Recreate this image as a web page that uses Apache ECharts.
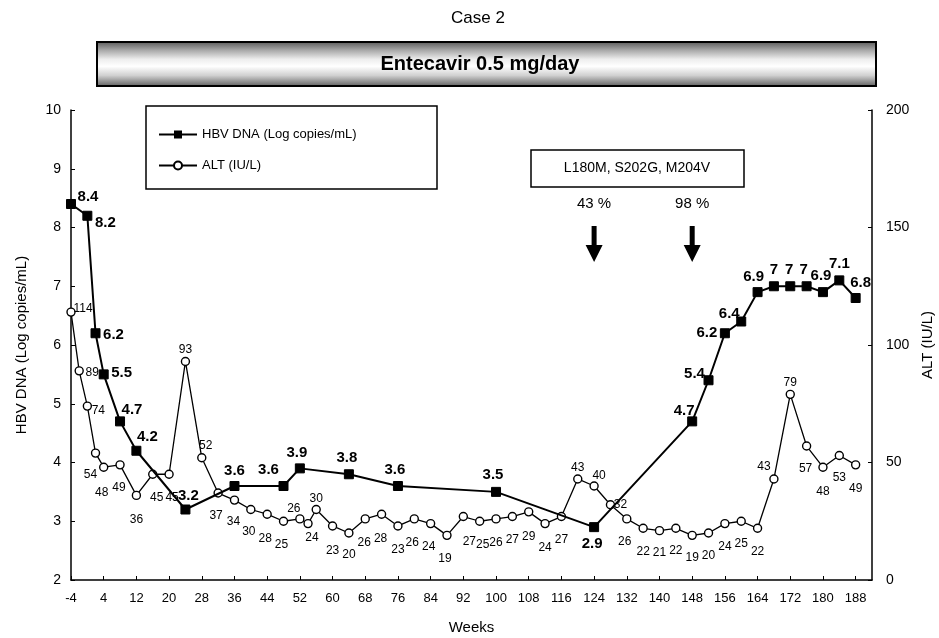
<!DOCTYPE html>
<html>
<head>
<meta charset="utf-8">
<script src="https://cdn.jsdelivr.net/npm/echarts@6/dist/echarts.min.js"></script>
<style>
html,body{margin:0;padding:0;background:#fff;}
#chart{width:939px;height:638px;}
</style>
</head>
<body>
<div id="chart"></div>
<script>
// ---- data ----
const hbvWeeks = [-4,0,2,4,8,12,24,36,48,52,64,76,100,124,148,152,156,160,164,168,172,176,180,184,188];
const hbvValues = [8.4,8.2,6.2,5.5,4.7,4.2,3.2,3.6,3.6,3.9,3.8,3.6,3.5,2.9,4.7,5.4,6.2,6.4,6.9,7,7,7,6.9,7.1,6.8];
const altWeeks = [-4,-2,0,2,4,8,12,16,20,24,28,32,36,40,44,48,52,54,56,60,64,68,72,76,80,84,88,92,96,100,104,108,112,116,120,124,128,132,136,140,144,148,152,156,160,164,168,172,176,180,184,188];
const altValues = [114,89,74,54,48,49,36,45,45,93,52,37,34,30,28,25,26,24,30,23,20,26,28,23,26,24,19,27,25,26,27,29,24,27,43,40,32,26,22,21,22,19,20,24,25,22,43,79,57,48,53,49];
const weekTicks = [-4,4,12,20,28,36,44,52,60,68,76,84,92,100,108,116,124,132,140,148,156,164,172,180,188];
const mutationWeeks = [124,148];
const mutationPct = ['43 %','98 %'];

// ---- label layout (offsets of each value label from its marker, px) ----
const hbvLabelOffsets = [[17,-7],[18,7],[18,2],[18,-2],[12,-12],[11,-14],[3,-14],[0,-15],[-15,-16],[-3,-16],[-2,-16],[-3,-16],[-3,-17],[-2,17],[-8,-11],[-14,-6],[-18,0],[-12,-8],[-4,-15],[0,-16],[-1,-16],[-3,-16],[-2,-16],[0,-17],[5,-15]];
const altLabelOffsets = [[12,-3],[13,2],[11,5],[-5,22],[-2,25],[-1,23],[0,24],[4,23],[3,23],[0,-12],[4,-12],[-2,23],[-1,22],[-2,22],[-2,24],[-2,23],[-6,-10],[4,14],[0,-11],[0,25],[0,22],[-1,24],[-1,24],[0,24],[-2,24],[-2,23],[-2,23],[6,25],[3,23],[0,24],[0,23],[0,25],[0,24],[0,23],[0,-11],[5,-10],[10,0],[-2,23],[0,23],[0,22],[0,22],[0,22],[0,23],[0,23],[0,22],[0,23],[-10,-12],[0,-12],[-1,23],[0,24],[0,22],[0,24]];

const SHIFT = 4; // axis counts from week -4
const FONT = "'Liberation Sans', Arial, sans-serif";

const hbvData = hbvWeeks.map((w,i)=>[w+SHIFT,hbvValues[i]]);
const altData = altWeeks.map((w,i)=>[w+SHIFT,altValues[i]]);

const chart = echarts.init(document.getElementById('chart'), null, {renderer:'canvas'});
const option = {
  animation:false,
  backgroundColor:'#fff',
  textStyle:{fontFamily:FONT,color:'#000'},
  grid:{left:71,right:67,top:110,bottom:58,containLabel:false,outerBoundsMode:'none'},
  legend:{
    orient:'vertical', left:153, top:123, itemGap:18, itemWidth:38, itemHeight:10,
    textStyle:{fontFamily:FONT,fontSize:13,color:'#000'},
    data:['HBV DNA (Log copies/mL)','ALT (IU/L)']
  },
  xAxis:{
    type:'value', min:0, max:196, interval:8,
    name:'Weeks', nameLocation:'middle', nameGap:40,
    nameTextStyle:{fontSize:15,color:'#000',fontFamily:FONT},
    axisLine:{lineStyle:{color:'#000',width:1.5}},
    axisTick:{inside:true,length:4,lineStyle:{color:'#000'}},
    axisLabel:{color:'#000',fontSize:13,margin:12,showMaxLabel:false,
      formatter:v=>{const w=v-SHIFT;return weekTicks.indexOf(w)>=0?String(w):'';}},
    splitLine:{show:false}
  },
  yAxis:[{
    type:'value', min:2, max:10, interval:1, position:'left',
    name:'HBV DNA (Log copies/mL)', nameLocation:'middle', nameGap:42, nameRotate:90,
    nameTextStyle:{fontSize:15,color:'#000',fontFamily:FONT},
    axisLine:{show:true,lineStyle:{color:'#000',width:1.5}},
    axisTick:{show:true,inside:true,length:4,lineStyle:{color:'#000'}},
    axisLabel:{color:'#000',fontSize:14,margin:10},
    splitLine:{show:false}
  },{
    type:'value', min:0, max:200, interval:50, position:'right',
    name:'ALT (IU/L)', nameLocation:'middle', nameGap:46, nameRotate:90,
    nameTextStyle:{fontSize:15,color:'#000',fontFamily:FONT},
    axisLine:{show:true,lineStyle:{color:'#000',width:1.5}},
    axisTick:{show:true,inside:true,length:4,lineStyle:{color:'#000'}},
    axisLabel:{color:'#000',fontSize:14,margin:14},
    splitLine:{show:false}
  }],
  series:[{
    name:'ALT (IU/L)', type:'line', yAxisIndex:1, data:altData,
    symbol:'circle', symbolSize:8,
    itemStyle:{color:'#fff',borderColor:'#000',borderWidth:1.4},
    lineStyle:{color:'#000',width:1.3},
    label:{show:true,position:'inside',align:'center',verticalAlign:'middle',
      fontSize:12,color:'#000',fontFamily:FONT,formatter:p=>p.value[1]},
    labelLayout:p=>({dx:altLabelOffsets[p.dataIndex][0],dy:altLabelOffsets[p.dataIndex][1],hideOverlap:false}),
    z:2
  },{
    name:'HBV DNA (Log copies/mL)', type:'line', yAxisIndex:0, data:hbvData,
    symbol:'rect', symbolSize:9,
    itemStyle:{color:'#000',borderColor:'#000'},
    lineStyle:{color:'#000',width:2},
    label:{show:true,position:'inside',align:'center',verticalAlign:'middle',
      fontSize:15,fontWeight:'bold',color:'#000',fontFamily:FONT,formatter:p=>p.value[1]},
    labelLayout:p=>({dx:hbvLabelOffsets[p.dataIndex][0],dy:hbvLabelOffsets[p.dataIndex][1],hideOverlap:false}),
    z:3
  }]
};
chart.setOption(option);

// ---- annotations (title banner, legend frame, mutation arrows) ----
const g = [];
g.push({type:'text',x:478,y:18,style:{text:'Case 2',font:'17px '+FONT,fill:'#000',textAlign:'center',textVerticalAlign:'middle'}});
g.push({type:'rect',shape:{x:97,y:42,width:779,height:44},
  style:{stroke:'#000',lineWidth:2,
    fill:new echarts.graphic.LinearGradient(0,0,0,1,[
      {offset:0,color:'#555555'},{offset:0.2,color:'#a8a8a8'},{offset:0.4,color:'#eeeeee'},
      {offset:0.55,color:'#ffffff'},{offset:0.75,color:'#d0d0d0'},{offset:1,color:'#5a5a5a'}])},z:10});
g.push({type:'text',x:480,y:64,style:{text:'Entecavir 0.5 mg/day',font:'bold 20px '+FONT,fill:'#000',textAlign:'center',textVerticalAlign:'middle'},z:11});
g.push({type:'rect',shape:{x:146,y:106,width:291,height:83},style:{fill:'none',stroke:'#000',lineWidth:1.5},z:10});
g.push({type:'rect',shape:{x:531,y:150,width:213,height:37},style:{fill:'#fff',stroke:'#000',lineWidth:1.5},z:10});
g.push({type:'text',x:637,y:168,style:{text:'L180M, S202G, M204V',font:'14px '+FONT,fill:'#000',textAlign:'center',textVerticalAlign:'middle'},z:11});
mutationWeeks.forEach((w,i)=>{
  const px = chart.convertToPixel({gridIndex:0},[w+SHIFT,2])[0];
  g.push({type:'text',x:px,y:204,style:{text:mutationPct[i],font:'15px '+FONT,fill:'#000',textAlign:'center',textVerticalAlign:'middle'},z:11});
  g.push({type:'polygon',shape:{points:[[px-2.5,226],[px+2.5,226],[px+2.5,245],[px+8.5,245],[px,262],[px-8.5,245],[px-2.5,245]]},style:{fill:'#000'},z:11});
});
chart.setOption({graphic:g});
</script>
</body>
</html>
